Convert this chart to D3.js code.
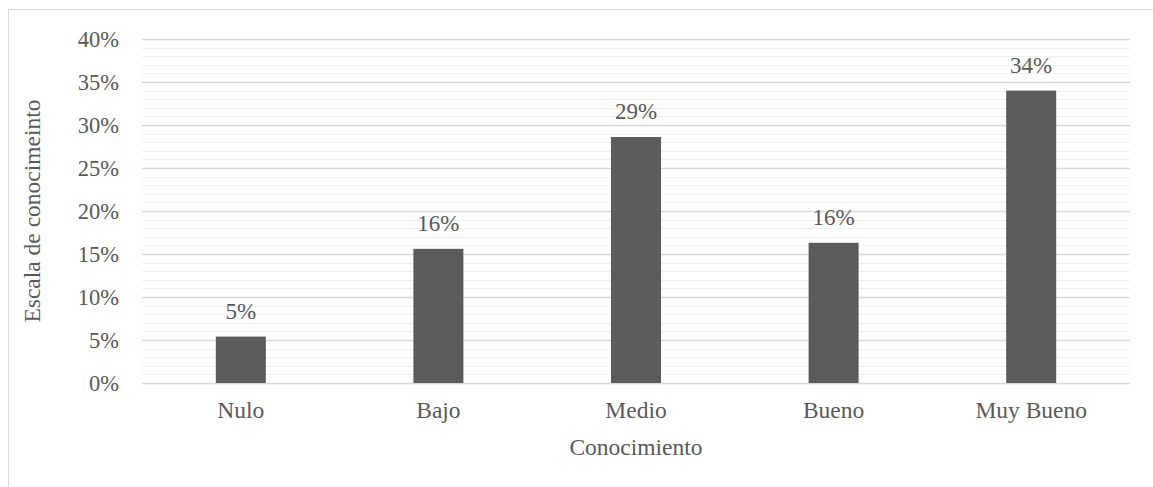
<!DOCTYPE html>
<html>
<head>
<meta charset="utf-8">
<script src="https://cdn.jsdelivr.net/npm/d3@7"></script>
<style>
  html, body { margin: 0; padding: 0; background: #fff; }
  svg { display: block; }
  text { font-family: "Liberation Serif", "Times New Roman", serif; fill: #595959; }
</style>
</head>
<body>
<svg id="chart" width="1153" height="487"></svg>
<script>
const categories = ["Nulo", "Bajo", "Medio", "Bueno", "Muy Bueno"];
const values = [0.054, 0.156, 0.286, 0.163, 0.340];
const labels = ["5%", "16%", "29%", "16%", "34%"];
const majorTicks = [0, 0.05, 0.10, 0.15, 0.20, 0.25, 0.30, 0.35, 0.40];
const minorTicks = d3.range(0, 41).map(d => d / 100);
const xTitle = "Conocimiento";
const yTitle = "Escala de conocimeinto";

const W = 1153, H = 487;
const m = { left: 142, right: 23, top: 39, bottom: 104 };
const svg = d3.select("#chart");

svg.append("rect").attr("x", 8.5).attr("y", 9.5).attr("width", W).attr("height", H)
  .attr("fill", "none").attr("stroke", "#d9d9d9").attr("stroke-width", 1);

const x = d3.scaleBand().domain(categories).range([m.left, W - m.right]).paddingInner(0.747).paddingOuter(0.3735);
const y = d3.scaleLinear().domain([0, 0.40]).range([H - m.bottom, m.top]);

// minor gridlines
svg.append("g").selectAll("line").data(minorTicks.filter(t => Math.round(t * 100) % 5 !== 0)).join("line")
  .attr("x1", m.left).attr("x2", W - m.right)
  .attr("y1", d => Math.round(y(d)) + 0.5).attr("y2", d => Math.round(y(d)) + 0.5)
  .attr("stroke", "#efefef").attr("stroke-width", 1);

// major gridlines
svg.append("g").selectAll("line").data(majorTicks).join("line")
  .attr("x1", m.left).attr("x2", W - m.right)
  .attr("y1", d => Math.round(y(d)) + 0.5).attr("y2", d => Math.round(y(d)) + 0.5)
  .attr("stroke", "#d9d9d9").attr("stroke-width", 1.3);

// y axis labels
const yAxis = d3.axisLeft(y).tickValues(majorTicks).tickFormat(d3.format(".0%")).tickSize(0).tickPadding(23);
const gy = svg.append("g").attr("transform", `translate(${m.left},0)`).call(yAxis);
gy.select(".domain").remove();
gy.selectAll("text").style("font-family", '"Liberation Serif", serif').style("font-size", "22.5px").attr("fill", "#595959");

// x axis labels
const xAxis = d3.axisBottom(x).tickSize(0).tickPadding(18);
const gx = svg.append("g").attr("transform", `translate(0,${H - m.bottom})`).call(xAxis);
gx.select(".domain").remove();
gx.selectAll("text").style("font-family", '"Liberation Serif", serif').style("font-size", "23.5px").attr("fill", "#595959");

// bars
svg.append("g").selectAll("rect").data(values).join("rect")
  .attr("x", (d, i) => x(categories[i]))
  .attr("width", x.bandwidth())
  .attr("y", d => y(d))
  .attr("height", d => y(0) - y(d))
  .attr("fill", "#5b5b5b");

// data labels
svg.append("g").selectAll("text").data(values).join("text")
  .attr("x", (d, i) => x(categories[i]) + x.bandwidth() / 2)
  .attr("y", d => y(d) - 18)
  .attr("text-anchor", "middle")
  .style("font-size", "23px")
  .text((d, i) => labels[i]);

// axis titles
svg.append("text").attr("x", (m.left + W - m.right) / 2).attr("y", 455)
  .attr("text-anchor", "middle").style("font-size", "23.5px").text(xTitle);
svg.append("text").attr("transform", `translate(40,${(m.top + H - m.bottom) / 2}) rotate(-90)`)
  .attr("text-anchor", "middle").style("font-size", "23.5px").text(yTitle);
</script>
</body>
</html>
